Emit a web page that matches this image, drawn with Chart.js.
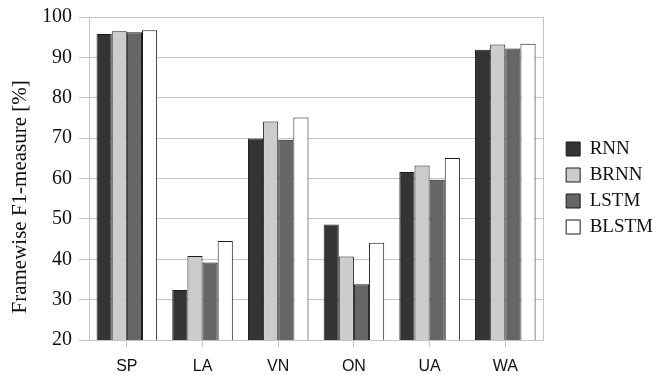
<!DOCTYPE html>
<html>
<head>
<meta charset="utf-8">
<script src="https://cdn.jsdelivr.net/npm/chart.js@4/dist/chart.umd.min.js"></script>
<style>
  html, body { margin: 0; padding: 0; background: #fff; }
  #wrap { width: 653px; height: 375px; }
</style>
</head>
<body>
<div id="wrap"><canvas id="f1Chart"></canvas></div>
<script>
const categories = ["SP", "LA", "VN", "ON", "UA", "WA"];
const rnn   = [95.8, 32.4, 69.9, 48.6, 61.6, 91.9];
const brnn  = [96.5, 40.8, 74.1, 40.7, 63.2, 93.2];
const lstm  = [96.2, 39.2, 69.6, 33.8, 59.7, 92.2];
const blstm = [96.7, 44.5, 75.1, 44.1, 65.1, 93.4];
const yTicks = [20, 30, 40, 50, 60, 70, 80, 90, 100];

const serif = "'Liberation Serif', 'Times New Roman', serif";
const lineGray = '#c4c4c4';

const ctx = document.getElementById('f1Chart').getContext('2d');

new Chart(ctx, {
    type: 'bar',
    data: {
        labels: categories,
        datasets: [
            { label: 'RNN',   data: rnn,   backgroundColor: '#333433' },
            { label: 'BRNN',  data: brnn,  backgroundColor: '#cccccc' },
            { label: 'LSTM',  data: lstm,  backgroundColor: '#666666' },
            { label: 'BLSTM', data: blstm, backgroundColor: '#ffffff' }
        ].map(ds => Object.assign(ds, {
            borderColor: '#1a1a1a',
            borderWidth: 1,
            borderSkipped: false,
            categoryPercentage: 0.8,
            barPercentage: 1.0
        }))
    },
    options: {
        responsive: true,
        maintainAspectRatio: false,
        animation: false,
        layout: { padding: { left: 8, top: 1, right: -10, bottom: 0 } },
        plugins: {
            tooltip: { enabled: false },
            legend: {
                position: 'right',
                labels: {
                    boxWidth: 14,
                    boxHeight: 14,
                    padding: 7,
                    color: '#111',
                    font: { family: serif, size: 19 }
                }
            }
        },
        scales: {
            x: {
                afterFit: (axis) => { axis.height = 35; },
                grid: {
                    offset: false,
                    drawOnChartArea: false,
                    drawTicks: true,
                    tickLength: 7,
                    color: lineGray
                },
                border: { color: lineGray },
                ticks: {
                    padding: 10,
                    color: '#111',
                    font: { family: "'Liberation Sans', Arial, sans-serif", size: 16 }
                }
            },
            y: {
                min: 20,
                max: 100,
                afterFit: (axis) => { axis.width = 81; },
                afterBuildTicks: (axis) => { axis.ticks = yTicks.map(v => ({ value: v })); },
                grid: { color: lineGray, tickLength: 10 },
                border: { color: lineGray },
                ticks: {
                    padding: 7,
                    color: '#111',
                    font: { family: serif, size: 20, lineHeight: 1 }
                },
                title: {
                    display: true,
                    // trailing spaces nudge the centred title a bit lower, as in the original
                    text: 'Framewise F1-measure [%]       ',
                    color: '#111',
                    font: { family: serif, size: 21 },
                    padding: { top: 0, bottom: 4 }
                }
            },
            // empty right axis: draws the frame's right edge and keeps the gap to the legend
            yRight: {
                position: 'right',
                afterFit: (axis) => { axis.width = 16; },
                grid: { drawOnChartArea: false, drawTicks: false },
                border: { color: lineGray },
                ticks: { display: false }
            }
        }
    }
});
</script>
</body>
</html>
